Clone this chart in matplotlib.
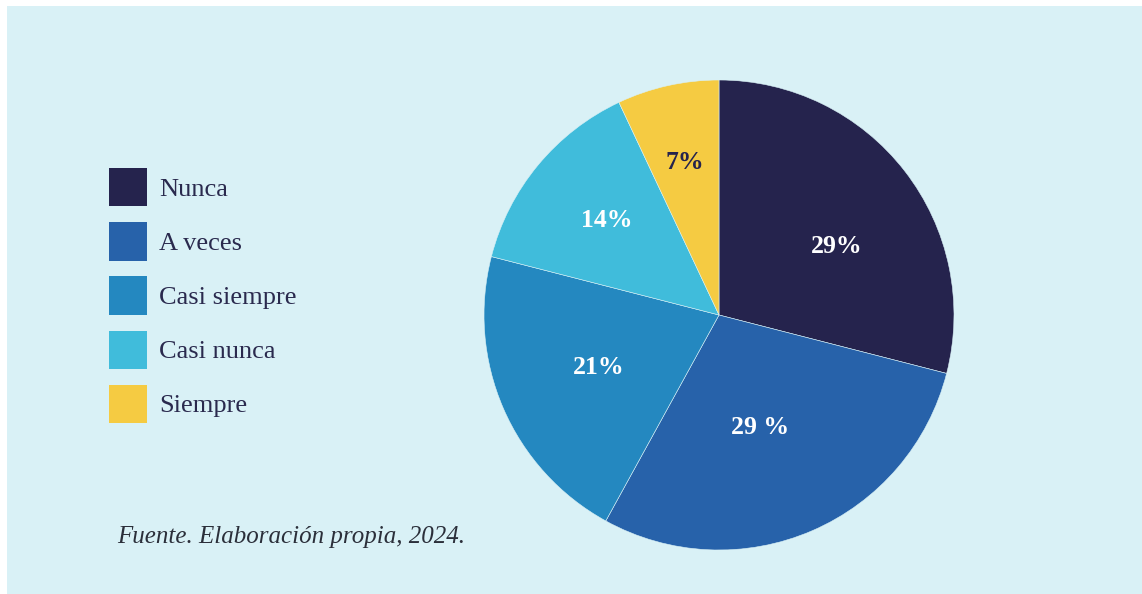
import numpy as np
import matplotlib
matplotlib.use("Agg")
import matplotlib.pyplot as plt
from matplotlib.patches import Patch

categories = ["Nunca", "A veces", "Casi siempre", "Casi nunca", "Siempre"]
values = [29, 29, 21, 14, 7]
pct_labels = ["29%", "29 %", "21%", "14%", "7%"]
source_note = "Fuente. Elaboración propia, 2024."

colors = ["#25234D", "#2762AA", "#2488C0", "#40BCDB", "#F5CB42"]
label_colors = ["white", "white", "white", "white", "#25234D"]
label_radius = [0.58, 0.51, 0.56, 0.625, 0.667]
label_nudge = [-7.5, -3.5, 0, -0.7, 0]   # degrees
bg = "#D9F1F6"
text_col = "#2A2A4E"

W, H = 1142, 594
fig = plt.figure(figsize=(W / 100, H / 100), dpi=100, facecolor="white")
# light panel behind everything
fig.patches.append(plt.Rectangle((7 / W, 0), 1, 1 - 6 / H, transform=fig.transFigure,
                                 facecolor=bg, edgecolor="none", zorder=-1))

ax = fig.add_axes([484 / W, 1 - 550 / H, 470 / W, 470 / H])
ax.set_facecolor("none")
wedges, _ = ax.pie(values, colors=colors, startangle=90, counterclock=False,
                   wedgeprops=dict(linewidth=0.4, edgecolor=bg))
ax.set_aspect("equal")
ax.set_xlim(-1, 1)
ax.set_ylim(-1, 1)
ax.axis("off")

for w, lab, r, nd, c in zip(wedges, pct_labels, label_radius, label_nudge, label_colors):
    ang = np.deg2rad((w.theta1 + w.theta2) / 2 + nd)
    ax.text(r * np.cos(ang), r * np.sin(ang), lab, ha="center", va="center",
            color=c, fontsize=18.5, fontweight="bold", family="Liberation Serif")

handles = [Patch(facecolor=c, edgecolor="none") for c in colors]
fig.legend(handles, categories, loc="upper left",
           bbox_to_anchor=(109 / W, 1 - 168 / H), frameon=False,
           borderpad=0, borderaxespad=0, handlelength=1.44, handleheight=1.86,
           handletextpad=0.45, labelspacing=0.60,
           prop=dict(family="Liberation Serif", size=19), labelcolor=text_col)

fig.text(117 / W, 1 - 537 / H, source_note, ha="left", va="center",
         fontsize=18, style="italic", family="Liberation Serif", color="#2B2F3A")

fig.savefig("out.png", dpi=100, facecolor="white")
